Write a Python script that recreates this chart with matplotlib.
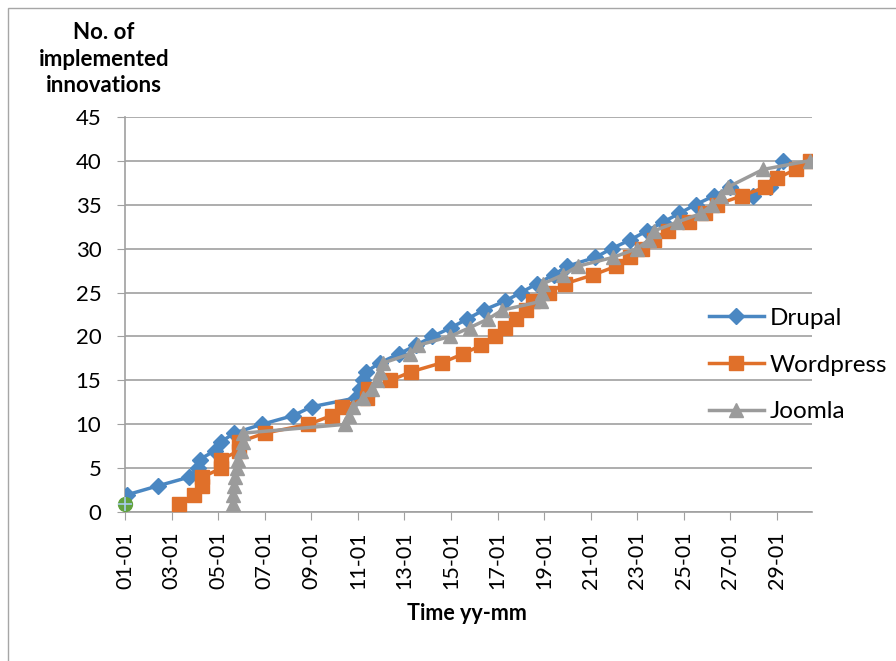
import matplotlib
matplotlib.use('Agg')
import matplotlib.pyplot as plt
from matplotlib.patches import Rectangle

plt.rcParams['font.family'] = ['Lato', 'DejaVu Sans']

# time in years after 2000 (1.0 = 01-01)
drupal_x = [1.10, 2.40, 3.75, 4.12, 4.20, 4.85, 5.12, 5.68, 6.87, 8.22,
            9.01, 10.9, 11.1, 11.2, 11.37, 11.94, 12.75, 13.5, 14.2, 15.0,
            15.7, 16.4, 17.3, 18.0, 18.7, 19.4, 20.0, 21.2, 21.9, 22.7,
            23.4, 24.1, 24.8, 25.5, 26.3, 27.0, 27.97, 28.7, 29.25]
drupal_y = [2, 3, 4, 5, 6, 7, 8, 9, 10, 11,
            12, 13, 14, 15, 16, 17, 18, 19, 20, 21,
            22, 23, 24, 25, 26, 27, 28, 29, 30, 31,
            32, 33, 34, 35, 36, 37, 36, 37, 40]

wordpress_x = [3.32, 3.97, 4.32, 4.32, 5.12, 5.12, 5.9, 5.9, 7.0, 8.87,
               9.87, 10.3, 11.4, 11.44, 12.4, 13.3, 14.6, 15.5, 16.3, 16.9,
               17.3, 17.8, 18.2, 18.5, 19.2, 19.9, 21.1, 22.1, 22.7, 23.2,
               23.7, 24.3, 25.2, 25.9, 26.4, 27.5, 28.5, 29.0, 29.8, 30.4]
wordpress_y = list(range(1, 41))

joomla_x = [5.62, 5.65, 5.68, 5.72, 5.79, 5.86, 6.0, 6.05, 6.05, 10.44,
            10.6, 10.8, 11.2, 11.6, 11.8, 11.95, 12.1, 13.23, 13.6, 14.95,
            15.8, 16.6, 17.2, 18.88, 18.9, 18.95, 19.8, 20.45, 21.96, 23.0,
            23.5, 23.7, 24.7, 25.75, 26.2, 26.6, 26.9, 28.4, 30.4]
joomla_y = [1, 2, 3, 4, 5, 6, 7, 8, 9, 10,
            11, 12, 13, 14, 15, 16, 17, 18, 19, 20,
            21, 22, 23, 24, 25, 26, 27, 28, 29, 30,
            31, 32, 33, 34, 35, 36, 37, 39, 40]

start_x = [1.0]
start_y = [1]

xticks = list(range(1, 30, 2))
xlabels = ['%02d-01' % t for t in xticks]

fig = plt.figure(figsize=(8.96, 6.61), dpi=100)
W, H = 896, 661
ax = fig.add_axes([125 / W, 1 - 512.3 / H, (812 - 125) / W, (512.3 - 116.7) / H])

# chart area border (cropped at right/bottom)
fig.patches.append(Rectangle((8 / W, -0.1), 1.2, 1 - 8 / H + 0.1, transform=fig.transFigure,
                             fill=False, edgecolor='#A6A6A6', linewidth=1))

blue = '#4A87C2'
orange = '#E0702A'
grey = '#9B9B9B'

ax.plot(drupal_x, drupal_y, color=blue, lw=2.5, marker='D', ms=8, label='Drupal', zorder=3)
ax.plot(wordpress_x, wordpress_y, color=orange, lw=2.5, marker='s', ms=10, label='Wordpress', zorder=4)
ax.plot(joomla_x, joomla_y, color=grey, lw=2.5, marker='^', ms=10.5, label='Joomla', zorder=5)
ax.plot(start_x, start_y, ls='none', marker='o', ms=10, color='#62A23F', zorder=6, clip_on=False)
ax.plot(start_x, start_y, ls='none', marker='+', ms=10, mew=1.2, color='#A9CCEB', zorder=7, clip_on=False)

ax.set_xlim(1.0, 30.5)
ax.set_ylim(0, 45)
ax.set_yticks(range(0, 46, 5))
ax.set_xticks(xticks)
ax.set_xticklabels(xlabels, rotation=90, fontsize=15.5)
ax.tick_params(axis='y', labelsize=16, length=6, color='#A0A0A0', pad=11)
ax.tick_params(axis='x', length=5.5, color='#A0A0A0', pad=8)
ax.yaxis.grid(True, color='#A0A0A0', lw=1.2)
ax.set_axisbelow(True)
for s in ['top', 'right']:
    ax.spines[s].set_visible(False)
for s in ['left', 'bottom']:
    ax.spines[s].set_color('#A0A0A0')
    ax.spines[s].set_linewidth(1.2)

fig.text(104 / W, 1 - 59 / H, 'No. of\nimplemented\ninnovations', ha='center', va='center',
         fontsize=16, fontweight='bold', linespacing=1.3)
fig.text(467 / W, 1 - 614 / H, 'Time yy-mm', ha='center', va='center', fontsize=15.5, fontweight='bold')

fig.legend(loc='center left', bbox_to_anchor=(709 / W, 1 - 365 / H), frameon=False,
           fontsize=17.5, handlelength=2.25, handletextpad=0.25, labelspacing=1.05,
           borderpad=0, borderaxespad=0)

fig.savefig('out.png', dpi=100)
